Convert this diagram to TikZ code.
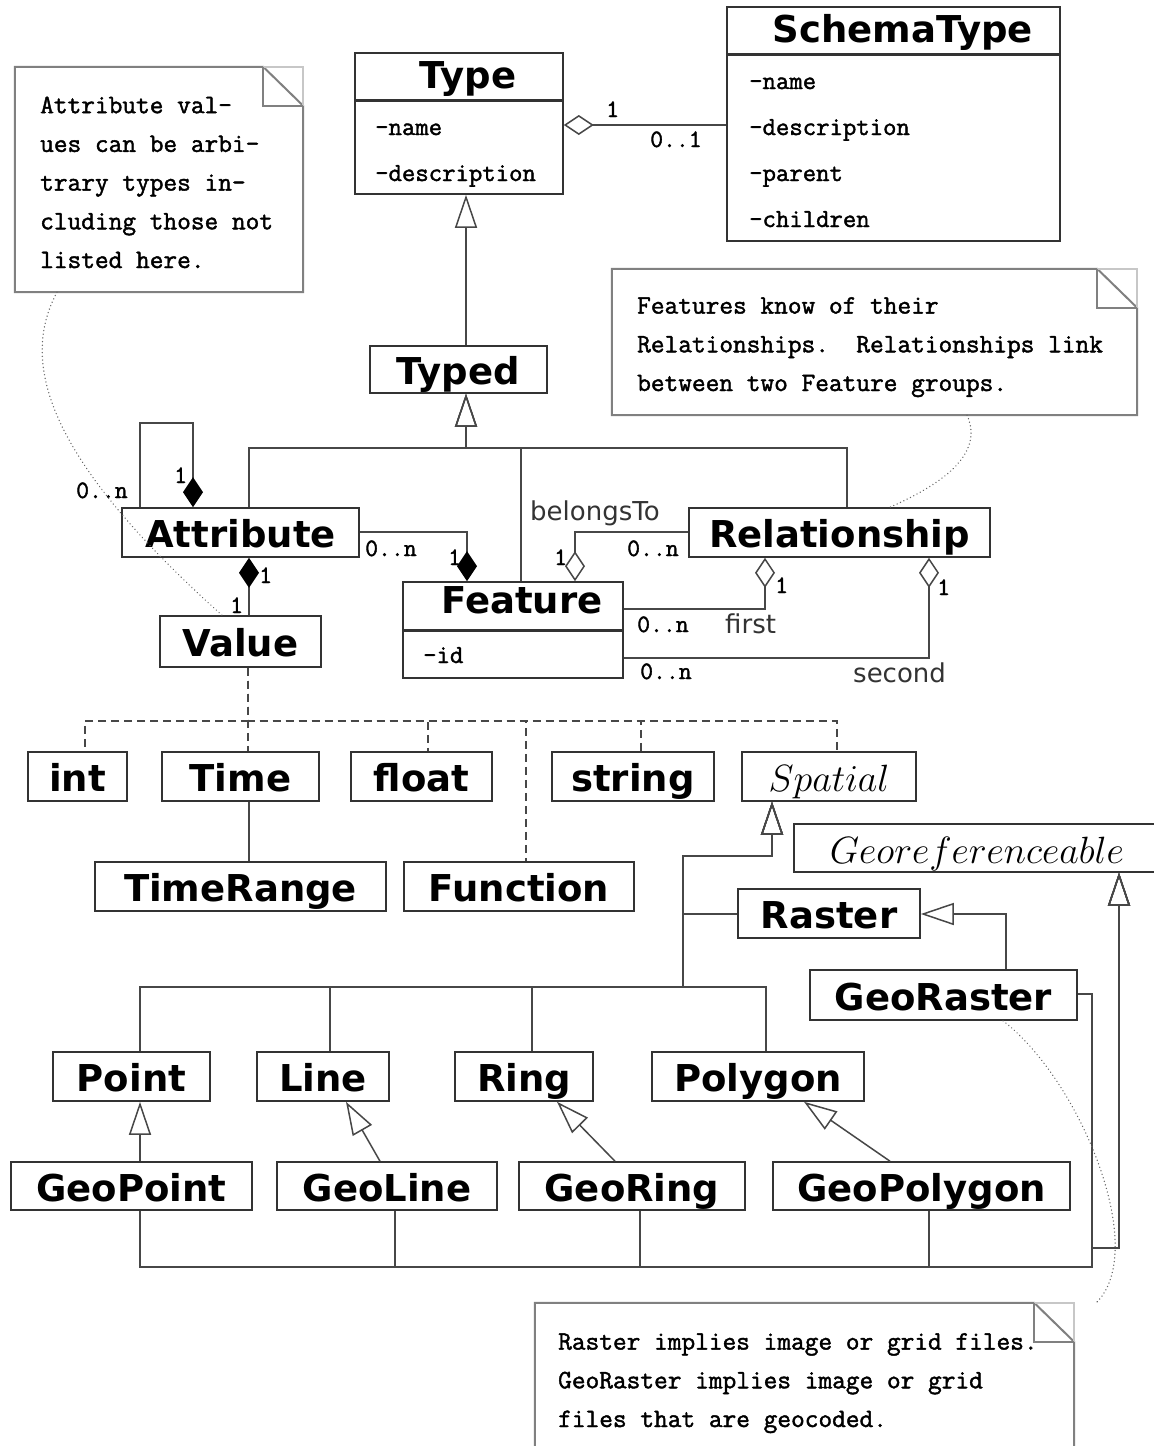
\RequirePackage{fix-cm}
\documentclass[tikz,border=0pt]{standalone}
\usepackage{fontspec}
\newfontfamily\clsfont{DejaVu Sans}
\newfontfamily\tyfont[FakeBold=1.6]{Latin Modern Mono}
\usetikzlibrary{arrows.meta}
\tikzset{
  cls/.style={draw=black!80, fill=white, line width=1.6pt, inner sep=0pt, text height=32pt, text depth=2pt, font=\clsfont\bfseries\fontsize{37}{40}\selectfont},
  mathcls/.style={cls, font=\fontsize{38}{40}\selectfont},
  mcls/.style={draw=black!80, fill=white, line width=1.6pt, inner sep=0pt},
  title/.style={anchor=base, inner sep=0pt, font=\clsfont\bfseries\fontsize{37}{40}\selectfont},
  divider/.style={draw=black!80, line width=3pt},
  attr/.style={anchor=base west, inner sep=0pt, font=\tyfont\fontsize{26}{30}\selectfont},
  mult/.style={anchor=base west, inner sep=0pt, font=\tyfont\fontsize{25}{28}\selectfont},
  role/.style={anchor=base west, inner sep=0pt, text=black!80, font=\clsfont\fontsize{26}{30}\selectfont},
  conn/.style={draw=black!72, line width=1.5pt},
  gen/.style={conn, arrows={-Triangle[open, length=33pt, width=22pt]}},
  comp/.style={conn, arrows={-Diamond[length=30pt, width=20pt, color=black]}},
  scomp/.style={conn, arrows={Diamond[length=30pt, width=20pt, color=black]-}},
  aggr/.style={conn, arrows={-Diamond[open, length=30pt, width=20pt]}},
  saggr/.style={conn, arrows={Diamond[open, length=30pt, width=20pt]-}},
  dep/.style={conn, dash pattern=on 8pt off 5pt},
  notebox/.style={draw=none, inner sep=0pt},
  noteline/.style={draw=black!50, line width=2pt},
  notecorner/.style={draw=black!22, line width=1.5pt},
  notetext/.style={anchor=base west, inner sep=0pt, align=left, font=\tyfont\fontsize{26.6}{38.7}\selectfont},
  notelink/.style={draw=black!60, line width=1.4pt, line cap=round, dash pattern=on 0.1pt off 3.6pt},
}
\begin{document}
\begin{tikzpicture}[x=1pt,y=-1pt]
\useasboundingbox (0,0) rectangle (1154,1446);
\fill[white] (0,0) rectangle (1154,1446);

% ---------- classes ----------
\node[mcls, minimum width=208pt, minimum height=141pt] (type) at (459,123.5) {};
\node[title] (typeT) at (468,88) {Type};
\draw[divider] (type.west |- 0,100) -- (type.east |- 0,100);
\node[attr] (typeA1) at (375,135) {-name};
\node[attr] (typeA2) at (375,181) {-description};

\node[mcls, minimum width=333pt, minimum height=234pt] (schema) at (893.5,124) {};
\node[title] (schemaT) at (903,42) {SchemaType};
\draw[divider] (schema.west |- 0,54) -- (schema.east |- 0,54);
\node[attr] (schemaA1) at (749,89) {-name};
\node[attr] (schemaA2) at (749,135) {-description};
\node[attr] (schemaA3) at (749,181) {-parent};
\node[attr] (schemaA4) at (749,227) {-children};

\node[mcls, minimum width=220pt, minimum height=96pt] (feature) at (513,630) {};
\node[title] (featureT) at (522,613) {Feature};
\draw[divider] (feature.west |- 0,630) -- (feature.east |- 0,630);
\node[attr] (featureA1) at (423,663) {-id};

\node[cls, minimum width=177pt, minimum height=47pt] (typed) at (458.5,369.5) {Typed};
\node[cls, minimum width=237pt, minimum height=49pt] (attribute) at (240.5,532.5) {Attribute};
\node[cls, minimum width=161pt, minimum height=51pt] (value) at (240.5,641.5) {Value};
\node[cls, minimum width=301pt, minimum height=49pt] (relationship) at (839.5,532.5) {Relationship};

\node[cls, minimum width=99pt, minimum height=49pt] (int) at (77.5,776.5) {int};
\node[cls, minimum width=157pt, minimum height=49pt] (time) at (240.5,776.5) {Time};
\node[cls, minimum width=141pt, minimum height=49pt] (float) at (421.5,776.5) {float};
\node[cls, minimum width=162pt, minimum height=49pt] (string) at (633,776.5) {string};
\node[mathcls, minimum width=174pt, minimum height=49pt] (spatial) at (829,776.5) {$Spatial$};
\node[cls, minimum width=291pt, minimum height=49pt] (timerange) at (240.5,886.5) {TimeRange};
\node[cls, minimum width=230pt, minimum height=49pt] (function) at (519,886.5) {Function};
\node[mathcls, minimum width=366pt, minimum height=48pt] (georef) at (977,848) {$Georeferenceable$};
\node[cls, minimum width=182pt, minimum height=49pt] (raster) at (829,913.5) {Raster};
\node[cls, minimum width=267pt, minimum height=50pt] (georaster) at (943.5,995) {GeoRaster};

\node[cls, minimum width=157pt, minimum height=49pt] (point) at (131.5,1076.5) {Point};
\node[cls, minimum width=132pt, minimum height=49pt] (line) at (323,1076.5) {Line};
\node[cls, minimum width=138pt, minimum height=49pt] (ring) at (524,1076.5) {Ring};
\node[cls, minimum width=212pt, minimum height=49pt] (polygon) at (758,1076.5) {Polygon};
\node[cls, minimum width=241pt, minimum height=48pt] (geopoint) at (131.5,1186) {GeoPoint};
\node[cls, minimum width=220pt, minimum height=48pt] (geoline) at (387,1186) {GeoLine};
\node[cls, minimum width=226pt, minimum height=48pt] (georing) at (632,1186) {GeoRing};
\node[cls, minimum width=297pt, minimum height=48pt] (geopolygon) at (921.5,1186) {GeoPolygon};

% ---------- connectors ----------
\draw[saggr] (type.east |- 0,125) -- (schema.west |- 0,125);
\node[mult] (m1) at (606,117) {1};
\node[mult] (m2) at (650,147) {0..1};

\draw[gen] (typed.north -| 466,0) -- (type.south -| 466,0);
\draw[gen] (attribute.north -| 249,0) -- (249,448) -- (466,448) -- (typed.south -| 466,0);
\draw[gen] (feature.north -| 521,0) -- (521,448) -- (466,448) -- (typed.south -| 466,0);
\draw[gen] (relationship.north -| 847,0) -- (847,448) -- (466,448) -- (typed.south -| 466,0);

\draw[comp] (attribute.north -| 140,0) -- (140,423) -- (193,423) -- (attribute.north -| 193,0);
\node[mult] (m3) at (174,483) {1};
\node[mult] (m4) at (76,498) {0..n};

\draw[comp] (attribute.east |- 0,532) -- (467,532) -- (feature.north -| 467,0);
\node[mult] (m5) at (365,556) {0..n};
\node[mult] (m6) at (448,565) {1};

\draw[scomp] (attribute.south -| 249,0) -- (value.north -| 249,0);
\node[mult] (m7) at (259,583) {1};
\node[mult] (m8) at (230,613) {1};

\draw[aggr] (relationship.west |- 0,532) -- (575,532) -- (feature.north -| 575,0);
\node[role] (r1) at (530,520) {belongsTo};
\node[mult] (m9) at (627,556) {0..n};
\node[mult] (m10) at (554,565) {1};

\draw[aggr] (feature.east |- 0,609) -- (765,609) -- (relationship.south -| 765,0);
\node[mult] (m11) at (775,593) {1};
\node[mult] (m12) at (637,632) {0..n};
\node[role] (r2) at (725,633) {first};

\draw[aggr] (feature.east |- 0,658) -- (929,658) -- (relationship.south -| 929,0);
\node[mult] (m13) at (937,595) {1};
\node[mult] (m14) at (640,679) {0..n};
\node[role] (r3) at (853,682) {second};

% Value realisations (dashed)
\draw[dep] (value.south -| 248,0) -- (248,721) -- (85,721) -- (int.north -| 85,0);
\draw[dep] (value.south -| 248,0) -- (time.north -| 248,0);
\draw[dep] (value.south -| 248,0) -- (248,721) -- (428,721) -- (float.north -| 428,0);
\draw[dep] (value.south -| 248,0) -- (248,721) -- (526,721) -- (function.north -| 526,0);
\draw[dep] (value.south -| 248,0) -- (248,721) -- (641,721) -- (string.north -| 641,0);
\draw[dep] (value.south -| 248,0) -- (248,721) -- (837,721) -- (spatial.north -| 837,0);

\draw[conn] (time.south -| 249,0) -- (timerange.north -| 249,0);

% Spatial hierarchy
\draw[gen] (raster.west |- 0,914) -- (683,914) -- (683,856) -- (772,856) -- (spatial.south -| 772,0);
\draw[gen] (point.north -| 140,0) -- (140,987) -- (683,987) -- (683,856) -- (772,856) -- (spatial.south -| 772,0);
\draw[gen] (line.north -| 330,0) -- (330,987) -- (683,987) -- (683,856) -- (772,856) -- (spatial.south -| 772,0);
\draw[gen] (ring.north -| 532,0) -- (532,987) -- (683,987) -- (683,856) -- (772,856) -- (spatial.south -| 772,0);
\draw[gen] (polygon.north -| 766,0) -- (766,987) -- (683,987) -- (683,856) -- (772,856) -- (spatial.south -| 772,0);

\draw[gen] (georaster.north -| 1006,0) -- (1006,914) -- (raster.east |- 0,914);

\draw[gen] (geopoint.north -| 140,0) -- (point.south -| 140,0);
\draw[gen] (geoline.north -| 380,0) -- (line.south -| 346,0);
\draw[gen] (georing.north -| 615,0) -- (ring.south -| 557,0);
\draw[gen] (geopolygon.north -| 890,0) -- (polygon.south -| 804,0);

% Georeferenceable hierarchy
\draw[gen] (geopoint.south -| 140,0) -- (140,1267) -- (1092,1267) -- (1092,1248) -- (1119,1248) -- (georef.south -| 1119,0);
\draw[gen] (geoline.south -| 395,0) -- (395,1267) -- (1092,1267) -- (1092,1248) -- (1119,1248) -- (georef.south -| 1119,0);
\draw[gen] (georing.south -| 640,0) -- (640,1267) -- (1092,1267) -- (1092,1248) -- (1119,1248) -- (georef.south -| 1119,0);
\draw[gen] (geopolygon.south -| 929,0) -- (929,1267) -- (1092,1267) -- (1092,1248) -- (1119,1248) -- (georef.south -| 1119,0);
\draw[gen] (georaster.east |- 0,994) -- (1092,994) -- (1092,1248) -- (1119,1248) -- (georef.south -| 1119,0);

% ---------- notes ----------
\node[notebox, minimum width=288pt, minimum height=225pt] (note1) at (159,179.5) {};
\draw[noteline] (note1.north west) -- ([xshift=-40pt]note1.north east) -- ([yshift=-39pt]note1.north east) -- (note1.south east) -- (note1.south west) -- cycle;
\draw[notecorner] ([xshift=-40pt]note1.north east) -- (note1.north east) -- ([yshift=-39pt]note1.north east);
\draw[noteline] ([xshift=-40pt]note1.north east) -- ([xshift=-40pt,yshift=-39pt]note1.north east) -- ([yshift=-39pt]note1.north east);
\node[notetext] (note1t) at (40,268) {Attribute val-\\ues can be arbi-\\trary types in-\\cluding those not\\listed here.};

\node[notebox, minimum width=525pt, minimum height=146pt] (note2) at (874.5,342) {};
\draw[noteline] (note2.north west) -- ([xshift=-40pt]note2.north east) -- ([yshift=-39pt]note2.north east) -- (note2.south east) -- (note2.south west) -- cycle;
\draw[notecorner] ([xshift=-40pt]note2.north east) -- (note2.north east) -- ([yshift=-39pt]note2.north east);
\draw[noteline] ([xshift=-40pt]note2.north east) -- ([xshift=-40pt,yshift=-39pt]note2.north east) -- ([yshift=-39pt]note2.north east);
\node[notetext] (note2t) at (637,391) {Features know of their\\Relationships.\ \ Relationships link\\between two Feature groups.};

\node[notebox, minimum width=539pt, minimum height=157pt] (note3) at (804.5,1381.5) {};
\draw[noteline] (note3.north west) -- ([xshift=-40pt]note3.north east) -- ([yshift=-39pt]note3.north east) -- (note3.south east) -- (note3.south west) -- cycle;
\draw[notecorner] ([xshift=-40pt]note3.north east) -- (note3.north east) -- ([yshift=-39pt]note3.north east);
\draw[noteline] ([xshift=-40pt]note3.north east) -- ([xshift=-40pt,yshift=-39pt]note3.north east) -- ([yshift=-39pt]note3.north east);
\node[notetext] (note3t) at (558,1427) {Raster implies image or grid files.\\GeoRaster implies image or grid\\files that are geocoded.};

% note links (dotted)
\draw[notelink] (note1.south -| 57,0) .. controls (15,370) and (60,470) .. (value.north -| 222,0);
\draw[notelink] (note2.south -| 967,0) .. controls (985,455) and (940,485) .. (relationship.north -| 890,0);
\draw[notelink] (georaster.south -| 1003,0) .. controls (1080,1080) and (1150,1250) .. ([xshift=22pt]note3.north east);
\end{tikzpicture}
\end{document}
